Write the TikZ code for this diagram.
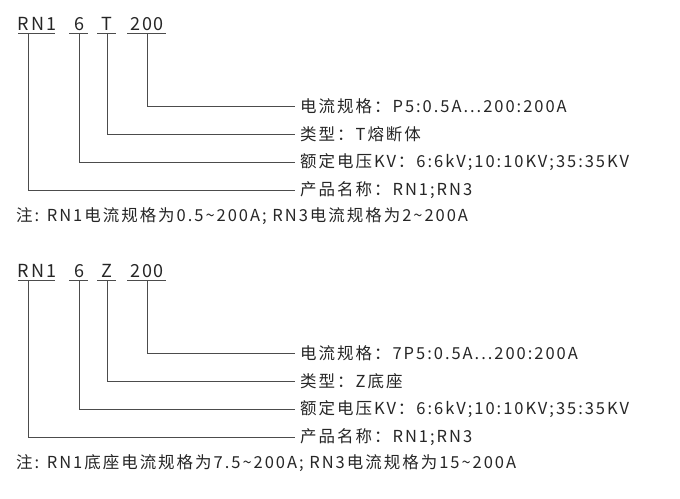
\documentclass[tikz,border=0pt]{standalone}
\usepackage{fontspec}
\setmainfont[LetterSpace=12]{Noto Sans CJK SC}
\newfontfamily\codefont[LetterSpace=10]{Noto Sans CJK SC}
\usetikzlibrary{calc}

\begin{document}
\begin{tikzpicture}[x=1pt, y=-1pt, font=\fontsize{16.5}{18}\selectfont,
        lead/.style={draw=black!70, line width=0.7pt},
        code/.style={anchor=base, inner sep=0pt, text=black!85, font=\codefont\fontsize{18}{20}\selectfont},
        desc/.style={anchor=west, inner sep=0pt, text=black!85},
        note/.style={anchor=west, inner sep=0pt, text=black!85}]

    \useasboundingbox (0, 0) rectangle (680, 498);

    % one block of the type code, shifted down for the second one
    \foreach \yo/\letter/\kind/\range/\remark in {%
        0/T/T熔断体/P5:0.5A{.}{.}{.}200:200A/注: RN1电流规格为0.5\textasciitilde200A; RN3电流规格为2\textasciitilde200A,%
        247/Z/Z底座/7P5:0.5A{.}{.}{.}200:200A/注: RN1底座电流规格为7.5\textasciitilde200A; RN3电流规格为15\textasciitilde200A}{
        \begin{scope}[shift={(0, \yo)}]
            % code letters with their underlines
            \node[code] (rn) at (37, 30) {RN1};
            \node[code] (kv) at (79, 30) {6};
            \node[code] (ty) at (107, 30) {\letter};
            \node[code] (am) at (147, 30) {200};
            \draw[lead] (18, 33) -- (55, 33);
            \draw[lead] (69, 33) -- (88, 33);
            \draw[lead] (97, 33) -- (116, 33);
            \draw[lead] (127, 33) -- (166, 33);

            % descriptions at the end of each lead
            \node[desc] (d1) at (300, 106) {电流规格：\range};
            \node[desc] (d2) at (300, 134) {类型：\kind};
            \node[desc] (d3) at (300, 162) {额定电压KV：6:6kV;10:10KV;35:35KV};
            \node[desc] (d4) at (300, 190) {产品名称：RN1;RN3};

            \draw[lead] (147, 33) |- ($(d1.west)+(-5, 0)$);
            \draw[lead] (107, 33) |- ($(d2.west)+(-5, 0)$);
            \draw[lead] (79, 33) |- ($(d3.west)+(-5, 0)$);
            \draw[lead] (28, 33) |- ($(d4.west)+(-5, 0)$);

            \node[note] (nt) at (16, 216) {\remark};
        \end{scope}
    }

\end{tikzpicture}
\end{document}
